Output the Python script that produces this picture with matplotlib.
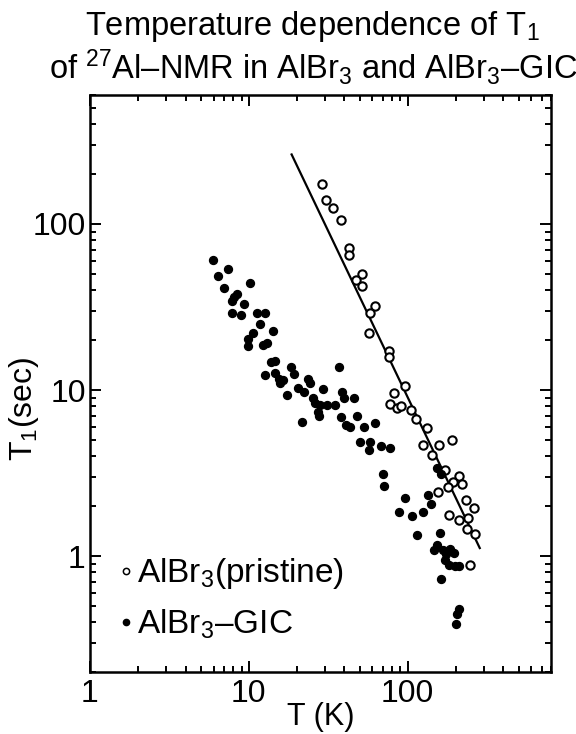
import matplotlib
matplotlib.use("Agg")
import matplotlib.pyplot as plt
from matplotlib.lines import Line2D

plt.rcParams['font.family'] = ['Liberation Sans', 'DejaVu Sans']
plt.rcParams['mathtext.fontset'] = 'custom'
plt.rcParams['mathtext.rm'] = 'Liberation Sans'
plt.rcParams['mathtext.it'] = 'Liberation Sans'

# AlBr3 (pristine), open circles: T (K), T1 (sec)
pristine_T = [28.7, 30.8, 33.9, 38.3, 42.7, 42.7, 51.9, 47.6, 51.9, 62.0,
              57.7, 57.1, 76.3, 76.3, 95.7, 81.6, 77.1, 85.7, 91.3, 105.5,
              113.4, 133, 191, 124, 158, 142, 171, 211, 192, 221,
              179, 154, 232, 260, 182, 211, 241, 237, 264, 247]
pristine_T1 = [175, 140, 125, 106, 71.7, 64.8, 50.2, 45.8, 42.3, 32.1,
               29.2, 22.1, 17.3, 15.8, 10.6, 9.59, 8.27, 7.79, 8.01, 7.61,
               6.66, 5.94, 5.00, 4.69, 4.69, 4.08, 3.30, 3.05, 2.80, 2.73,
               2.62, 2.44, 2.17, 1.96, 1.76, 1.66, 1.69, 1.46, 1.37, 0.88]

# AlBr3-GIC, filled dots
gic_T = [5.96, 7.41, 6.41, 10.25, 6.96, 8.37, 8.08, 7.89, 9.34, 7.89,
         8.91, 11.3, 12.7, 11.7, 14.2, 10.7, 9.82, 9.90, 12.3, 13.1,
         13.7, 14.7, 12.7, 14.6, 15.5, 16.4, 15.7, 18.5, 19.2, 17.5,
         20.4, 22.2, 23.5, 24.2, 29.1, 36.7, 38.6, 39.6, 46.2, 25.3,
         26.0, 28.1, 31.0, 34.7, 27.3, 27.8, 21.5, 37.8, 48.3, 40.9,
         43.4, 53.0, 62.7, 50.3, 57.9, 57.3, 67.6, 77.1, 69.6, 70.6,
         96.4, 135, 141, 88.5, 107, 125, 115, 159, 153, 161,
         146, 152, 167, 173, 184, 195, 171, 181, 198, 211,
         162, 210, 204, 200]
gic_T1 = [60.3, 53.3, 48.6, 44.3, 41.3, 38.0, 36.3, 34.2, 33.1, 29.2,
          28.2, 29.1, 29.1, 25.1, 22.7, 22.1, 20.2, 18.4, 18.8, 19.3,
          14.7, 14.9, 12.4, 12.7, 11.7, 11.5, 11.1, 13.8, 12.5, 9.33,
          10.3, 9.69, 11.6, 11.0, 10.2, 13.8, 9.77, 8.95, 8.95, 8.95,
          8.35, 8.09, 8.09, 8.12, 7.40, 6.95, 6.44, 6.91, 7.00, 6.18,
          6.03, 6.03, 6.33, 4.90, 4.90, 4.35, 4.59, 4.47, 3.13, 2.63,
          2.23, 2.33, 2.06, 1.85, 1.74, 1.85, 1.35, 1.38, 3.39, 3.12,
          1.09, 1.17, 1.09, 1.03, 1.10, 1.04, 0.955, 0.883, 0.870, 0.870,
          0.734, 0.482, 0.449, 0.393]

# straight fit line through the pristine data (T1 ~ T^-2)
fit_T = [18.6, 284]
fit_T1 = [262, 1.12]

fig = plt.figure(figsize=(5.76, 7.34), dpi=100)
ax = fig.add_axes([0.156, 0.084, 0.801, 0.787])

ax.plot(fit_T, fit_T1, color='black', lw=1.6, zorder=2)
ax.plot(pristine_T, pristine_T1, 'o', ls='none', ms=6, mfc='white',
        mec='black', mew=1.5, zorder=3)
ax.plot(gic_T, gic_T1, 'o', ls='none', ms=5.7, color='black', zorder=3)

ax.set_xscale('log')
ax.set_yscale('log')
ax.set_xlim(1, 800)
ax.set_ylim(0.2, 600)
ax.set_xticks([1, 10, 100])
ax.set_xticklabels(['1', '10', '100'])
ax.set_yticks([1, 10, 100])
ax.set_yticklabels(['1', '10', '100'])

ax.tick_params(which='both', direction='in', top=True, right=True,
               labelsize=23, width=1.4)
ax.tick_params(which='major', length=8)
ax.tick_params(axis='x', which='major', pad=5)
ax.tick_params(axis='y', which='major', pad=3)
ax.tick_params(which='minor', length=4.5)
for s in ax.spines.values():
    s.set_linewidth(1.8)

ax.set_xlabel('T (K)', fontsize=22, labelpad=-5)
ax.set_ylabel('T$_1$(sec)', fontsize=23)
ax.yaxis.set_label_coords(-0.105, 0.456)

handles = [Line2D([], [], marker='o', ls='none', ms=4.5, mfc='white', mec='black', mew=1.1),
           Line2D([], [], marker='o', ls='none', ms=4.5, color='black')]
ax.legend(handles, ['AlBr$_3$(pristine)', 'AlBr$_3$–GIC'], loc='lower left',
          bbox_to_anchor=(0.03, 0.025), frameon=False, fontsize=24,
          handlelength=0.35, handletextpad=0.15, labelspacing=0.5,
          borderpad=0)

fig.text(0.543, 0.988, 'Temperature dependence of T$_1$\n'
         'of $^{27}$Al–NMR in AlBr$_3$ and AlBr$_3$–GIC',
         ha='center', va='top', fontsize=23.5, linespacing=1.1)

fig.savefig('out.png', dpi=100)
